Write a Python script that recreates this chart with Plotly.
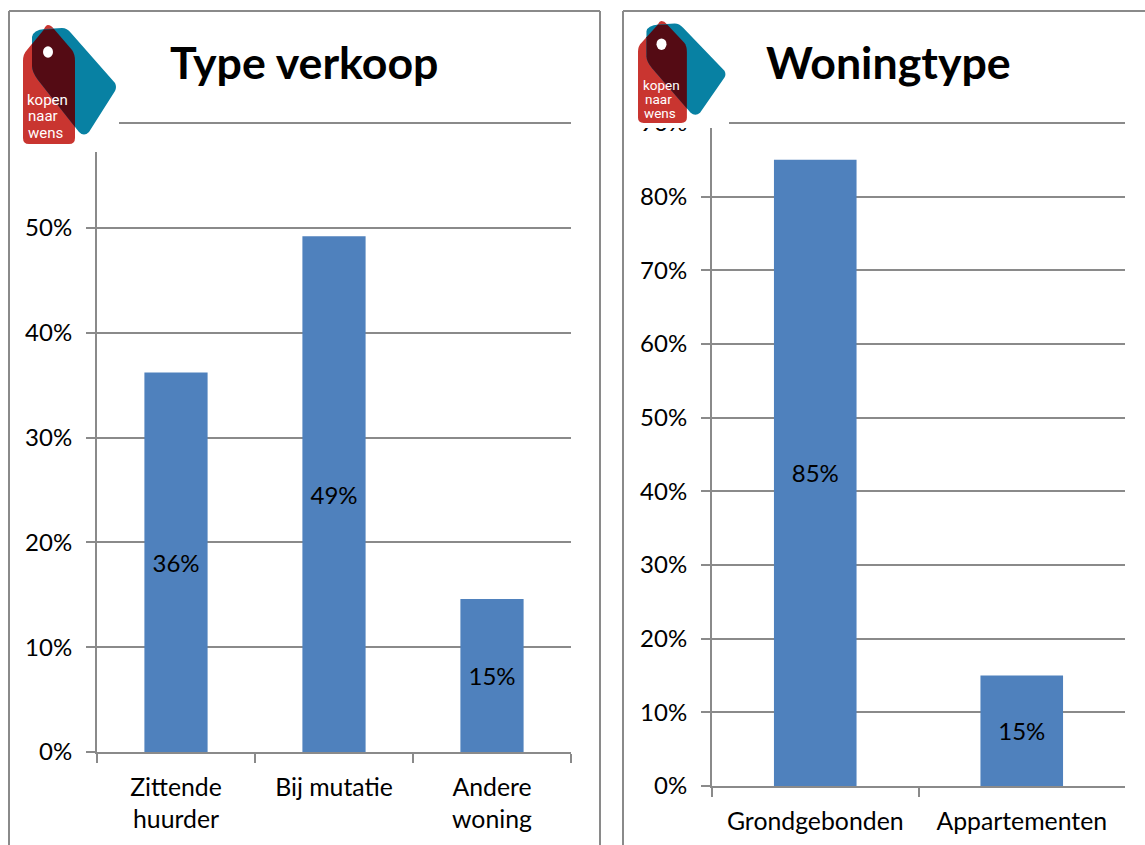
import plotly.graph_objects as go

W, H = 1145, 845

sale_titles = "Type verkoop"
sale_categories = ["Zittende<br>huurder", "Bij mutatie", "Andere<br>woning"]
sale_values = [0.362, 0.492, 0.146]
home_titles = "Woningtype"
home_categories = ["Grondgebonden", "Appartementen"]
home_values = [0.85, 0.15]

GRAY = "#8a8a8a"
BLUE = "#4f81bd"
FONT = "Lato, Carlito, sans-serif"
LOGO_FONT = "Roboto, sans-serif"


def px(x):
    return x / W


def py(y):
    return 1 - y / H


def line(x0, y0, x1, y1, width=2):
    return dict(type="line", xref="paper", yref="paper", x0=px(x0), x1=px(x1), y0=py(y0), y1=py(y1),
                line=dict(color=GRAY, width=width), layer="above")


def path(points_cmd, color, ox, oy, sx, sy):
    out = []
    for tok in points_cmd:
        if isinstance(tok, str):
            out.append(tok)
        else:
            out.append(f"{px(ox + tok[0] * sx):.5f},{py(oy + tok[1] * sy):.5f}")
    return dict(type="path", xref="paper", yref="paper", path=" ".join(out), fillcolor=color,
                line=dict(width=0), layer="above")


RED_TAG = ["M", (25, 0), "Q", (28, 0), (31, 4), "L", (49, 25), "Q", (52, 29), (52, 36), "L", (52, 113),
           "Q", (52, 119), (46, 119), "L", (6, 119), "Q", (0, 119), (0, 113), "L", (0, 36),
           "Q", (0, 29), (4, 25), "L", (21, 4), "Q", (23, 0), (25, 0), "Z"]
BLUE_TAG = ["M", (9, 12), "Q", (10, 5), (22, 4), "L", (39, 3), "Q", (44, 3), (48, 8), "L", (92, 58),
            "Q", (94, 62), (92, 66), "L", (66, 107), "Q", (61, 112), (56, 107), "L", (15, 55),
            "Q", (9, 47), (9, 41), "Z"]
DARK = ["M", (9, 19), "L", (21, 4.5), "L", (31, 4), "L", (49, 25), "Q", (52, 29), (52, 36), "L", (52, 102),
        "L", (15, 55), "Q", (9, 47), (9, 41), "Z"]


def logo(ox, oy, sx, sy):
    hole_x, hole_y, r = ox + 25 * sx, oy + 27 * sy, 5
    return [
        path(RED_TAG, "#c93530", ox, oy, sx, sy),
        path(BLUE_TAG, "#0881a3", ox, oy, sx, sy),
        path(DARK, "#540b14", ox, oy, sx, sy),
        dict(type="circle", xref="paper", yref="paper", x0=px(hole_x - r), x1=px(hole_x + r),
             y0=py(hole_y - r * 1.15), y1=py(hole_y + r * 1.15), fillcolor="white", line=dict(width=0), layer="above"),
    ]


def note(text, x, y, size, color="black", bold=False, font=FONT):
    return dict(text=f"<b>{text}</b>" if bold else text, x=px(x), y=py(y), xref="paper", yref="paper",
                showarrow=False, xanchor="center", yanchor="middle",
                font=dict(family=font, size=size, color=color))


fig = go.Figure()
for cats, vals, xa, ya in [(sale_categories, sale_values, "x", "y"), (home_categories, home_values, "x2", "y2")]:
    fig.add_bar(x=cats, y=vals, xaxis=xa, yaxis=ya, marker=dict(color=BLUE, line=dict(width=0)), width=0.4,
                texttemplate="%{y:.0%}", textposition="inside", insidetextanchor="middle", textangle=0,
                constraintext="none", textfont=dict(family=FONT, size=24, color="black"), showlegend=False)

xax = dict(type="category", tickson="boundaries", ticks="outside", ticklen=9, tickwidth=2, tickcolor=GRAY,
           showline=True, linecolor=GRAY, linewidth=2, showgrid=False, ticklabelstandoff=12, automargin=False,
           tickfont=dict(family=FONT, size=24.8, color="black"))
yax = dict(tickformat=".0%", ticks="outside", ticklen=9, tickwidth=2, tickcolor=GRAY, showline=True,
           linecolor=GRAY, linewidth=2, showgrid=True, gridcolor=GRAY, gridwidth=2, dtick=0.1, zeroline=False,
           ticklabelstandoff=9, automargin=False, tickfont=dict(family=FONT, size=24, color="black"))

shapes = [
    # white mask that cuts the right chart's top label
    dict(type="rect", xref="paper", yref="paper", x0=px(625), x1=px(1145), y0=py(14), y1=py(128),
         fillcolor="white", line=dict(width=0), layer="above"),
    line(9, 11, 600, 11), line(9, 11, 9, 845), line(600, 11, 600, 845),
    line(623, 11, 1145, 11), line(623, 11, 623, 845),
    line(119, 123, 571, 123), line(729, 123, 1125, 123),
]
shapes += logo(23, 25, 1, 1) + logo(638, 21, 0.94, 0.857)

annotations = [
    note(sale_titles, 304, 62, 44.7, bold=True),
    note(home_titles, 888, 62, 44.7, bold=True),
    note("kopen", 47, 100, 15, "white", font=LOGO_FONT),
    note("naar", 43, 116, 15, "white", font=LOGO_FONT),
    note("wens", 45, 133, 15, "white", font=LOGO_FONT),
    note("kopen", 661, 85, 13.5, "white", font=LOGO_FONT),
    note("naar", 658, 99, 13.5, "white", font=LOGO_FONT),
    note("wens", 660, 113, 13.5, "white", font=LOGO_FONT),
]

fig.update_layout(
    width=W, height=H, autosize=False, margin=dict(l=0, r=0, t=0, b=0),
    paper_bgcolor="white", plot_bgcolor="white", bargap=0.6,
    xaxis={**xax, "domain": [px(97), px(571)], "anchor": "y"},
    yaxis={**yax, "domain": [py(752), py(152)], "range": [0, 0.5725], "anchor": "x"},
    xaxis2={**xax, "domain": [px(712), px(1125)], "anchor": "y2"},
    yaxis2={**yax, "domain": [py(786), py(123)], "range": [0, 0.90], "anchor": "x2"},
    shapes=shapes, annotations=annotations,
)

fig.write_html("out.html", config=dict(displayModeBar=False),
               post_script="document.body.style.margin='0';document.body.style.overflow='hidden';")
